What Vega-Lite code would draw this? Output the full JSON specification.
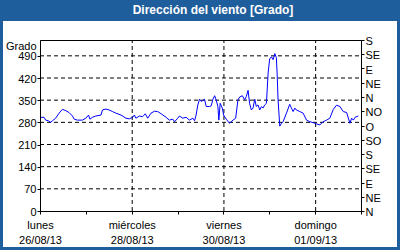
{
  "$schema": "https://vega.github.io/schema/vega-lite/v6.json",
  "width": 394,
  "height": 226,
  "autosize": {"type": "none"},
  "padding": {"left": 3, "right": 3, "top": 21, "bottom": 3},
  "background": "#1f5e9c",
  "title": {
    "text": "Dirección del viento [Grado]",
    "color": "white",
    "font": "Liberation Sans",
    "fontSize": 12,
    "fontWeight": "bold",
    "anchor": "middle",
    "frame": "group",
    "offset": 4,
    "dx": 13
  },
  "config": {
    "view": {"fill": "white", "stroke": null},
    "font": "Liberation Sans",
    "axis": {
      "labelFont": "Liberation Sans",
      "labelFontSize": 11,
      "labelColor": "black",
      "domainColor": "black",
      "tickColor": "black",
      "tickSize": 3,
      "grid": false,
      "labelFlush": false,
      "labelOverlap": false,
      "labelBound": false
    }
  },
  "datasets": {
    "series": [
      {"t": "2013-08-26T00:00", "v": 296},
      {"t": "2013-08-26T02:06", "v": 296},
      {"t": "2013-08-26T03:00", "v": 287},
      {"t": "2013-08-26T04:24", "v": 285},
      {"t": "2013-08-26T05:36", "v": 280},
      {"t": "2013-08-26T06:30", "v": 285},
      {"t": "2013-08-26T08:12", "v": 293},
      {"t": "2013-08-26T10:00", "v": 309},
      {"t": "2013-08-26T11:42", "v": 321},
      {"t": "2013-08-26T13:30", "v": 317},
      {"t": "2013-08-26T15:12", "v": 311},
      {"t": "2013-08-26T17:00", "v": 300},
      {"t": "2013-08-26T17:54", "v": 290},
      {"t": "2013-08-26T19:36", "v": 287},
      {"t": "2013-08-26T22:12", "v": 287},
      {"t": "2013-08-27T00:00", "v": 293},
      {"t": "2013-08-27T01:24", "v": 303},
      {"t": "2013-08-27T02:06", "v": 290},
      {"t": "2013-08-27T03:30", "v": 296},
      {"t": "2013-08-27T05:12", "v": 300},
      {"t": "2013-08-27T07:54", "v": 303},
      {"t": "2013-08-27T08:42", "v": 319},
      {"t": "2013-08-27T10:30", "v": 322},
      {"t": "2013-08-27T12:12", "v": 319},
      {"t": "2013-08-27T14:00", "v": 314},
      {"t": "2013-08-27T15:42", "v": 309},
      {"t": "2013-08-27T18:24", "v": 303},
      {"t": "2013-08-27T21:00", "v": 293},
      {"t": "2013-08-27T22:42", "v": 291},
      {"t": "2013-08-28T00:30", "v": 296},
      {"t": "2013-08-28T01:24", "v": 303},
      {"t": "2013-08-28T02:12", "v": 293},
      {"t": "2013-08-28T04:00", "v": 300},
      {"t": "2013-08-28T05:42", "v": 298},
      {"t": "2013-08-28T07:06", "v": 307},
      {"t": "2013-08-28T08:24", "v": 293},
      {"t": "2013-08-28T10:06", "v": 309},
      {"t": "2013-08-28T11:54", "v": 315},
      {"t": "2013-08-28T13:36", "v": 314},
      {"t": "2013-08-28T15:24", "v": 307},
      {"t": "2013-08-28T18:00", "v": 296},
      {"t": "2013-08-28T19:42", "v": 287},
      {"t": "2013-08-28T21:30", "v": 290},
      {"t": "2013-08-28T22:24", "v": 282},
      {"t": "2013-08-29T00:06", "v": 293},
      {"t": "2013-08-29T01:00", "v": 300},
      {"t": "2013-08-29T02:42", "v": 293},
      {"t": "2013-08-29T04:30", "v": 296},
      {"t": "2013-08-29T06:12", "v": 287},
      {"t": "2013-08-29T08:00", "v": 293},
      {"t": "2013-08-29T08:54", "v": 285},
      {"t": "2013-08-29T09:42", "v": 303},
      {"t": "2013-08-29T10:36", "v": 335},
      {"t": "2013-08-29T11:30", "v": 353},
      {"t": "2013-08-29T12:24", "v": 346},
      {"t": "2013-08-29T13:12", "v": 349},
      {"t": "2013-08-29T14:06", "v": 353},
      {"t": "2013-08-29T15:00", "v": 330},
      {"t": "2013-08-29T16:42", "v": 330},
      {"t": "2013-08-29T17:36", "v": 332},
      {"t": "2013-08-29T18:30", "v": 353},
      {"t": "2013-08-29T19:24", "v": 364},
      {"t": "2013-08-29T20:12", "v": 351},
      {"t": "2013-08-29T21:06", "v": 330},
      {"t": "2013-08-29T21:36", "v": 287},
      {"t": "2013-08-29T22:18", "v": 340},
      {"t": "2013-08-29T23:24", "v": 325},
      {"t": "2013-08-30T00:06", "v": 303},
      {"t": "2013-08-30T01:30", "v": 290},
      {"t": "2013-08-30T03:12", "v": 277},
      {"t": "2013-08-30T05:00", "v": 287},
      {"t": "2013-08-30T06:24", "v": 293},
      {"t": "2013-08-30T07:36", "v": 351},
      {"t": "2013-08-30T08:30", "v": 360},
      {"t": "2013-08-30T09:54", "v": 364},
      {"t": "2013-08-30T11:06", "v": 351},
      {"t": "2013-08-30T12:00", "v": 362},
      {"t": "2013-08-30T12:54", "v": 381},
      {"t": "2013-08-30T13:42", "v": 340},
      {"t": "2013-08-30T14:36", "v": 319},
      {"t": "2013-08-30T15:30", "v": 325},
      {"t": "2013-08-30T16:24", "v": 353},
      {"t": "2013-08-30T17:12", "v": 330},
      {"t": "2013-08-30T18:06", "v": 335},
      {"t": "2013-08-30T19:00", "v": 319},
      {"t": "2013-08-30T19:54", "v": 330},
      {"t": "2013-08-30T20:42", "v": 325},
      {"t": "2013-08-30T21:36", "v": 335},
      {"t": "2013-08-30T22:30", "v": 340},
      {"t": "2013-08-30T23:24", "v": 436},
      {"t": "2013-08-31T00:12", "v": 480},
      {"t": "2013-08-31T01:06", "v": 487},
      {"t": "2013-08-31T02:00", "v": 478},
      {"t": "2013-08-31T02:54", "v": 497},
      {"t": "2013-08-31T03:42", "v": 484},
      {"t": "2013-08-31T04:06", "v": 436},
      {"t": "2013-08-31T04:36", "v": 351},
      {"t": "2013-08-31T05:30", "v": 268},
      {"t": "2013-08-31T06:24", "v": 277},
      {"t": "2013-08-31T07:12", "v": 282},
      {"t": "2013-08-31T09:00", "v": 309},
      {"t": "2013-08-31T10:42", "v": 337},
      {"t": "2013-08-31T11:36", "v": 325},
      {"t": "2013-08-31T12:30", "v": 314},
      {"t": "2013-08-31T13:24", "v": 325},
      {"t": "2013-08-31T14:12", "v": 319},
      {"t": "2013-08-31T16:00", "v": 314},
      {"t": "2013-08-31T17:42", "v": 309},
      {"t": "2013-08-31T19:30", "v": 287},
      {"t": "2013-08-31T21:12", "v": 282},
      {"t": "2013-08-31T23:00", "v": 279},
      {"t": "2013-09-01T00:42", "v": 275},
      {"t": "2013-09-01T02:30", "v": 272},
      {"t": "2013-09-01T04:12", "v": 282},
      {"t": "2013-09-01T06:00", "v": 287},
      {"t": "2013-09-01T07:42", "v": 293},
      {"t": "2013-09-01T09:30", "v": 321},
      {"t": "2013-09-01T11:12", "v": 334},
      {"t": "2013-09-01T13:00", "v": 330},
      {"t": "2013-09-01T14:42", "v": 314},
      {"t": "2013-09-01T16:30", "v": 311},
      {"t": "2013-09-01T18:12", "v": 277},
      {"t": "2013-09-01T19:06", "v": 293},
      {"t": "2013-09-01T20:00", "v": 287},
      {"t": "2013-09-01T20:54", "v": 296},
      {"t": "2013-09-01T22:36", "v": 300}
    ],
    "hgrid": [{"g": 70}, {"g": 140}, {"g": 210}, {"g": 280}, {"g": 350}, {"g": 420}, {"g": 490}],
    "vgrid": [{"d": "2013-08-28T00:00"}, {"d": "2013-08-30T00:00"}, {"d": "2013-09-01T00:00"}],
    "box": [{"t0": "2013-08-26T00:00", "t1": "2013-09-02T00:00", "y0": 0, "y1": 540}]
  },
  "layer": [
    {
      "data": {"name": "hgrid"},
      "mark": {"type": "rule", "color": "black", "strokeWidth": 1, "strokeDash": [4, 3]},
      "encoding": {
        "x": {"datum": {"year": 2013, "month": 8, "date": 26}, "type": "temporal",
              "scale": {"domain": [{"year": 2013, "month": 8, "date": 26}, {"year": 2013, "month": 9, "date": 2}], "range": [37, 358]},
              "axis": {
                "orient": "bottom",
                "offset": -36,
                "title": null,
                "values": [
                  {"year": 2013, "month": 8, "date": 26}, {"year": 2013, "month": 8, "date": 27},
                  {"year": 2013, "month": 8, "date": 28}, {"year": 2013, "month": 8, "date": 29},
                  {"year": 2013, "month": 8, "date": 30}, {"year": 2013, "month": 8, "date": 31},
                  {"year": 2013, "month": 9, "date": 1}, {"year": 2013, "month": 9, "date": 2}
                ],
                "labelExpr": "indexof([26, 28, 30, 1], date(datum.value)) >= 0 ? [['domingo','lunes','martes','miércoles','jueves','viernes','sábado'][day(datum.value)], timeFormat(datum.value, '%d/%m/%y')] : ''",
                "labelPadding": 5,
                "labelLineHeight": 15,
                "labelBaseline": "top"
              }},
        "x2": {"datum": {"year": 2013, "month": 9, "date": 2}},
        "y": {"field": "g", "type": "quantitative", "scale": {"domain": [0, 540], "range": [190, 19]}, "axis": null}
      }
    },
    {
      "data": {"name": "vgrid"},
      "mark": {"type": "rule", "color": "black", "strokeWidth": 1, "strokeDash": [4, 3], "xOffset": 0.5},
      "encoding": {
        "x": {"field": "d", "type": "temporal"},
        "y": {"datum": 0, "type": "quantitative", "scale": {"domain": [0, 540], "range": [190, 19]}, "axis": null},
        "y2": {"datum": 540}
      }
    },
    {
      "data": {"name": "series"},
      "mark": {"type": "line", "color": "#0000ff", "strokeWidth": 1},
      "encoding": {
        "x": {"field": "t", "type": "temporal"},
        "y": {"field": "v", "type": "quantitative", "scale": {"domain": [0, 540], "range": [190, 19]},
              "axis": {
                "orient": "left",
                "offset": -37,
                "values": [0, 70, 140, 210, 280, 350, 420, 490],
                "labelPadding": 1,
                "labelOffset": 1,
                "title": "Grado",
                "titleAngle": 0,
                "titleFont": "Liberation Sans",
                "titleFontSize": 11,
                "titleFontWeight": "normal",
                "titleColor": "black",
                "titleAlign": "right",
                "titleBaseline": "middle",
                "titleX": -4,
                "titleY": 25
              }}
      }
    },
    {
      "data": {"name": "box"},
      "mark": {"type": "rect", "filled": false, "color": "black", "strokeWidth": 1,
               "xOffset": 0.5, "x2Offset": 0.5, "yOffset": 0.5, "y2Offset": 0.5},
      "encoding": {
        "x": {"field": "t0", "type": "temporal"},
        "x2": {"field": "t1"},
        "y": {"field": "y0", "type": "quantitative", "scale": {"domain": [0, 540], "range": [190, 19]},
              "axis": {
                "orient": "right",
                "offset": -36,
                "title": null,
                "values": [0, 45, 90, 135, 180, 225, 270, 315, 360, 405, 450, 495, 540],
                "labelExpr": "['N','NE','E','SE','S','SO','O','NO','N','NE','E','SE','S'][round(datum.value / 45)]",
                "labelPadding": 1,
                "labelOffset": 1.5
              }},
        "y2": {"field": "y1"}
      }
    }
  ],
  "resolve": {"scale": {"y": "independent"}, "axis": {"y": "independent"}}
}
